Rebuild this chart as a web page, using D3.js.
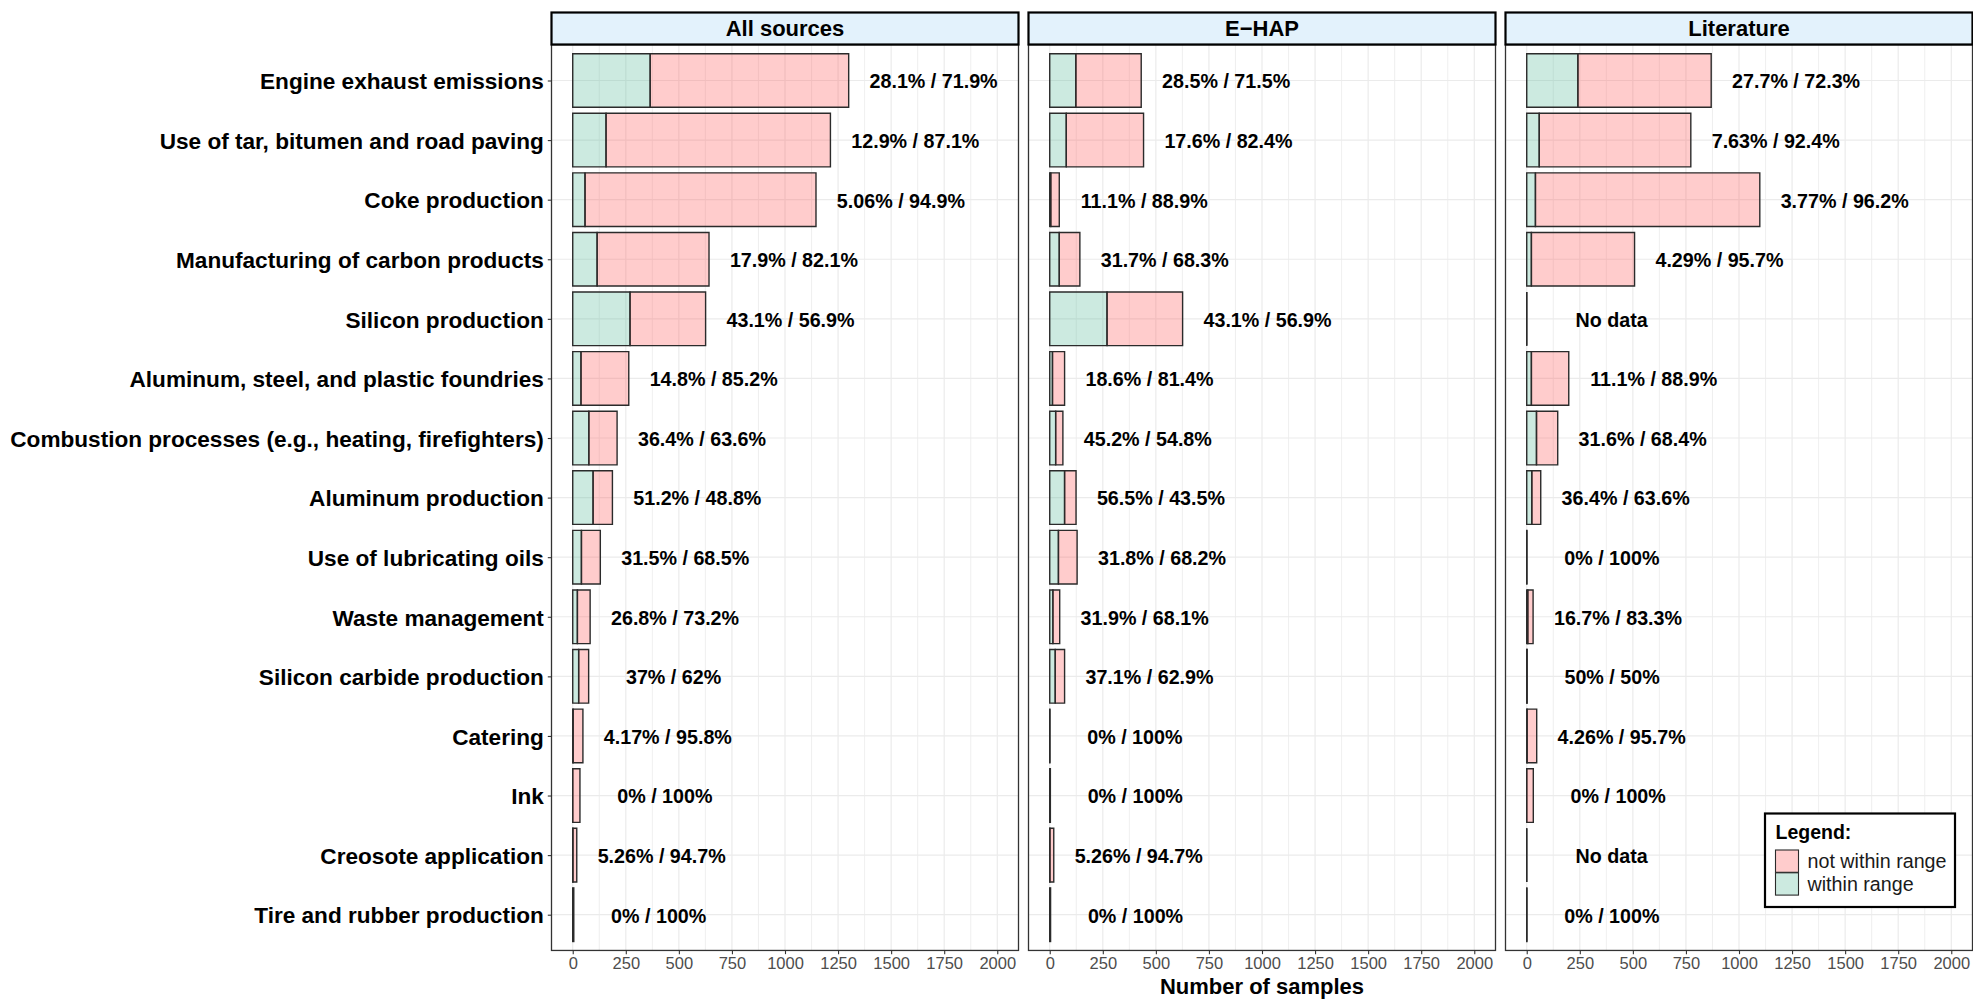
<!DOCTYPE html>
<html>
<head>
<meta charset="utf-8">
<script src="https://cdn.jsdelivr.net/npm/d3@7"></script>
<style>
  html, body { margin: 0; padding: 0; background: #ffffff; }
  svg { display: block; font-family: "Liberation Sans", Arial, sans-serif; }
</style>
</head>
<body>
<svg id="chart" width="1973" height="999"></svg>
<script>
// ---------------- data ----------------
const categories = [
  "Engine exhaust emissions",
  "Use of tar, bitumen and road paving",
  "Coke production",
  "Manufacturing of carbon products",
  "Silicon production",
  "Aluminum, steel, and plastic foundries",
  "Combustion processes (e.g., heating, firefighters)",
  "Aluminum production",
  "Use of lubricating oils",
  "Waste management",
  "Silicon carbide production",
  "Catering",
  "Ink",
  "Creosote application",
  "Tire and rubber production"
];
const panels = ["All sources", "E\u2212HAP", "Literature"];
const seriesNames = ["not within range", "within range"];
const xTicks = [0, 250, 500, 750, 1000, 1250, 1500, 1750, 2000];

// number of samples within range / not within range, per panel
const allWithin     = [365, 157,   58, 115, 270,  39,  76, 96, 41, 22, 28,  2,  0,  1, 0];
const allNotWithin  = [935, 1057, 1088, 527, 356, 225, 133, 91, 89, 60, 47, 46, 34, 18, 5];
const ehapWithin    = [123,  78,   5,  45, 270, 13, 28, 70, 41, 15, 26, 0, 0,  1, 0];
const ehapNotWithin = [308, 364,  40,  97, 356, 57, 34, 54, 88, 32, 44, 1, 3, 18, 4];
const litWithin     = [241,  59,   41,  22, 0,  22,  46, 24, 0,  5, 1,  2,  0, 0, 0];
const litNotWithin  = [628, 714, 1057, 486, 0, 176, 100, 42, 1, 25, 1, 45, 31, 0, 1];

const allLabels = ["28.1% / 71.9%","12.9% / 87.1%","5.06% / 94.9%","17.9% / 82.1%","43.1% / 56.9%",
  "14.8% / 85.2%","36.4% / 63.6%","51.2% / 48.8%","31.5% / 68.5%","26.8% / 73.2%",
  "37% / 62%","4.17% / 95.8%","0% / 100%","5.26% / 94.7%","0% / 100%"];
const ehapLabels = ["28.5% / 71.5%","17.6% / 82.4%","11.1% / 88.9%","31.7% / 68.3%","43.1% / 56.9%",
  "18.6% / 81.4%","45.2% / 54.8%","56.5% / 43.5%","31.8% / 68.2%","31.9% / 68.1%",
  "37.1% / 62.9%","0% / 100%","0% / 100%","5.26% / 94.7%","0% / 100%"];
const litLabels = ["27.7% / 72.3%","7.63% / 92.4%","3.77% / 96.2%","4.29% / 95.7%","No data",
  "11.1% / 88.9%","31.6% / 68.4%","36.4% / 63.6%","0% / 100%","16.7% / 83.3%",
  "50% / 50%","4.26% / 95.7%","0% / 100%","No data","0% / 100%"];

// ---------------- layout ----------------
const panelData = [
  { name: panels[0], within: allWithin,  notWithin: allNotWithin,  labels: allLabels },
  { name: panels[1], within: ehapWithin, notWithin: ehapNotWithin, labels: ehapLabels },
  { name: panels[2], within: litWithin,  notWithin: litNotWithin,  labels: litLabels }
];
const panelLeft = [551.5, 1028.5, 1505.5];
const panelW = 467;
const stripTop = 12.5, stripBottom = 44.5;
const bodyTop = 44.75, bodyBottom = 950.45;

const colors = { "not within range": "rgba(255,85,85,0.3)", "within range": "rgba(85,185,152,0.3)" };
const barStroke = "#2b2b2b";

const svg = d3.select("#chart");

const y = d3.scalePoint().domain(categories).range([bodyTop, bodyBottom]).padding(0.6);
const barH = y.step() * 0.9;

function segPath(x0, x1, yc) {
  const t = yc - barH / 2, b = yc + barH / 2;
  return `M${x0},${t}H${x1}V${b}H${x0}Z`;
}

panelData.forEach((pd, pi) => {
  const left = panelLeft[pi];
  const x = d3.scaleLinear().domain([-100, 2100]).range([left, left + panelW]);
  const g = svg.append("g");

  // background
  g.append("rect").attr("x", left).attr("y", bodyTop).attr("width", panelW)
    .attr("height", bodyBottom - bodyTop).attr("fill", "#ffffff");

  // minor + major vertical gridlines
  const minor = d3.range(125, 2000, 250);
  g.selectAll(".vminor").data(minor).enter().append("line")
    .attr("x1", d => x(d)).attr("x2", d => x(d))
    .attr("y1", bodyTop).attr("y2", bodyBottom)
    .attr("stroke", "#EBEBEB").attr("stroke-width", 0.8);
  g.selectAll(".vmajor").data(xTicks).enter().append("line")
    .attr("x1", d => x(d)).attr("x2", d => x(d))
    .attr("y1", bodyTop).attr("y2", bodyBottom)
    .attr("stroke", "#EBEBEB").attr("stroke-width", 1.2);
  g.selectAll(".hmajor").data(categories).enter().append("line")
    .attr("x1", left).attr("x2", left + panelW)
    .attr("y1", d => y(d)).attr("y2", d => y(d))
    .attr("stroke", "#EBEBEB").attr("stroke-width", 1.2);

  // bars: within (left) then not within (right)
  const rows = categories.map((c, i) => ({
    cat: c, within: pd.within[i], notWithin: pd.notWithin[i],
    total: pd.within[i] + pd.notWithin[i], label: pd.labels[i]
  }));
  g.selectAll(".within").data(rows).enter().append("path")
    .attr("d", d => segPath(x(0), x(d.within), y(d.cat)))
    .attr("fill", colors["within range"]).attr("stroke", barStroke).attr("stroke-width", 1.4);
  g.selectAll(".notwithin").data(rows).enter().append("path")
    .attr("d", d => segPath(x(d.within), x(d.total), y(d.cat)))
    .attr("fill", colors["not within range"]).attr("stroke", barStroke).attr("stroke-width", 1.4);

  // labels
  g.selectAll(".lab").data(rows).enter().append("text")
    .attr("x", d => x(d.total + 400)).attr("y", d => y(d.cat) + 1).attr("dy", "0.35em")
    .attr("text-anchor", "middle").attr("font-size", "19.7px").attr("font-weight", "bold")
    .attr("fill", "#000000").text(d => d.label);

  // panel border
  g.append("rect").attr("x", left).attr("y", bodyTop).attr("width", panelW)
    .attr("height", bodyBottom - bodyTop).attr("fill", "none")
    .attr("stroke", "#333333").attr("stroke-width", 1.3);

  // strip
  g.append("rect").attr("x", left).attr("y", stripTop).attr("width", panelW)
    .attr("height", stripBottom - stripTop).attr("fill", "#E3F2FC")
    .attr("stroke", "#000000").attr("stroke-width", 2.2);
  g.append("text").attr("x", left + panelW / 2).attr("y", (stripTop + stripBottom) / 2)
    .attr("dy", "0.35em").attr("text-anchor", "middle")
    .attr("font-size", "22px").attr("font-weight", "bold").attr("fill", "#000")
    .text(pd.name);

  // x axis
  const ax = g.append("g").attr("transform", `translate(0,${bodyBottom})`)
    .call(d3.axisBottom(x).tickValues(xTicks).tickSize(3.7).tickPadding(3).tickFormat(d3.format("d")));
  ax.select(".domain").remove();
  ax.selectAll(".tick line").attr("stroke", "#333333").attr("stroke-width", 1.1);
  ax.selectAll(".tick text").attr("font-size", "16.5px").attr("fill", "#4D4D4D")
    .attr("font-family", "Liberation Sans, Arial, sans-serif");

  if (pi === 0) {
    const ay = g.append("g").attr("transform", `translate(${left},0)`)
      .call(d3.axisLeft(y).tickSize(3.7).tickPadding(4));
    ay.select(".domain").remove();
    ay.selectAll(".tick line").attr("stroke", "#333333").attr("stroke-width", 1.1);
    ay.selectAll(".tick text").attr("font-size", "22.6px").attr("font-weight", "bold")
      .attr("fill", "#000000").attr("y", 1)
      .attr("font-family", "Liberation Sans, Arial, sans-serif");
  }
});

// x axis title
svg.append("text").attr("x", panelLeft[1] + panelW / 2).attr("y", 994)
  .attr("text-anchor", "middle").attr("font-size", "22px").attr("font-weight", "bold")
  .attr("fill", "#000").text("Number of samples");

// legend
const lg = svg.append("g");
lg.append("rect").attr("x", 1765).attr("y", 813.5).attr("width", 190).attr("height", 93.5)
  .attr("fill", "#ffffff").attr("stroke", "#000000").attr("stroke-width", 2.2);
lg.append("text").attr("x", 1775.5).attr("y", 838.5).attr("font-size", "19.5px")
  .attr("font-weight", "bold").attr("fill", "#000").text("Legend:");
seriesNames.forEach((s, i) => {
  const ky = 850 + i * 22.8;
  lg.append("rect").attr("x", 1775.5).attr("y", ky).attr("width", 23).attr("height", 22.3)
    .attr("fill", colors[s]).attr("stroke", barStroke).attr("stroke-width", 1.1);
  lg.append("text").attr("x", 1807.5).attr("y", ky + 11.2).attr("dy", "0.35em")
    .attr("font-size", "19.7px").attr("fill", "#1A1A1A").text(s);
});
</script>
</body>
</html>
